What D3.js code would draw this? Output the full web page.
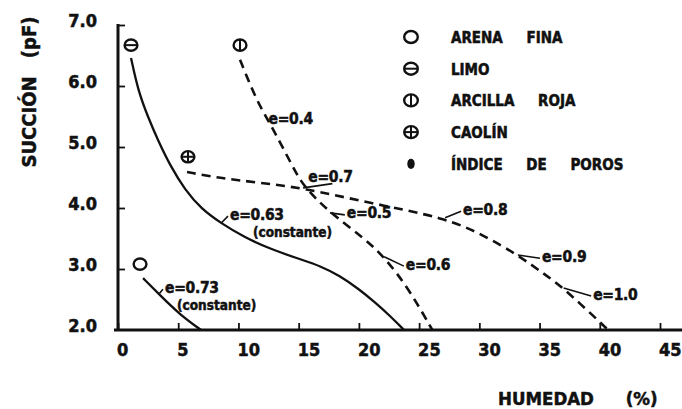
<!DOCTYPE html>
<html><head><meta charset="utf-8">
<script src="https://cdn.jsdelivr.net/npm/d3@7"></script>
<style>
html,body{margin:0;padding:0;background:#fff;}
svg{display:block;}
text{font-family:"DejaVu Sans Condensed","DejaVu Sans",sans-serif;font-weight:bold;fill:#111;font-stretch:condensed;stroke:#111;stroke-width:0.5px;}
</style></head>
<body>
<svg id="c" width="682" height="409"></svg>
<script>
// ---- data ----
const xTicks = [0,5,10,15,20,25,30,35,40,45];
const yTicks = [2.0,3.0,4.0,5.0,6.0,7.0];
const xTitle = "HUMEDAD (%)";
const yTitle = "SUCCIÓN (pF)";

// curves: [humedad %, succión pF]
const limo = [[1.08,6.46],[1.66,5.93],[2.49,5.49],[3.32,5.11],[4.4,4.67],[5.56,4.30],[6.89,3.99],[8.55,3.75],[10.5,3.52],[12.5,3.34],[15.1,3.16],[16.8,3.05],[18.4,2.89],[20.0,2.67],[21.3,2.46],[22.6,2.23],[23.75,2.0]];
const arena = [[2.08,2.85],[3.49,2.57],[5.15,2.25],[6.9,2.0]];
const arcilla = [[10.13,6.43],[11.55,5.74],[12.62,5.39],[14.53,4.67],[15.37,4.36],[17.6,3.92],[20.35,3.52],[22.1,3.2],[24.1,2.69],[26.1,2.0]];
const caolin = [[5.73,4.59],[8.47,4.49],[11.5,4.42],[15.37,4.33],[20.93,4.08],[27.16,3.84],[30.3,3.56],[33.2,3.23],[35.3,2.93],[37.0,2.69],[40.7,2.0]];

// point markers: [h, s, type]
const markers = [[1.83,3.08,"circle"],[1.08,6.67,"minus"],[10.13,6.67,"bar"],[5.81,4.84,"plus"]];

// legend
const legendTypes = ["circle","minus","bar","plus","dot"];
const legendLabels = ["ARENA FINA","LIMO","ARCILLA ROJA","CAOLÍN","ÍNDICE DE POROS"];

// annotations: text, anchor on curve [h,s], text start [h,s], optional second line
const notes = [
  {t:"e=0.4", a:[12.62,5.39], p:[12.5,5.47], leader:false},
  {t:"e=0.7", a:[15.37,4.33], p:[15.8,4.51], leader:true, lp:[17.8,4.40]},
  {t:"e=0.5", a:[17.6,3.92], p:[19.0,3.92], leader:true},
  {t:"e=0.63", a:[8.55,3.75], p:[9.3,3.90], leader:true, sub:"(constante)", sp:[11.2,3.61]},
  {t:"e=0.73", a:[3.4,2.59], p:[3.9,2.70], leader:true, sub:"(constante)", sp:[4.9,2.41]},
  {t:"e=0.6", a:[22.1,3.2], p:[23.9,3.08], leader:true},
  {t:"e=0.8", a:[27.16,3.84], p:[28.65,3.98], leader:true},
  {t:"e=0.9", a:[33.2,3.23], p:[35.2,3.21], leader:true},
  {t:"e=1.0", a:[37.0,2.69], p:[39.45,2.59], leader:true}
];

// ---- drawing ----
const svg = d3.select("#c");
const x = d3.scaleLinear().domain([0,45]).range([118,660]);
const y = d3.scaleLinear().domain([2,7]).range([330,25]);
const ink = "#111";

// axes
const gx = svg.append("g").attr("transform",`translate(0,${y(2)})`)
  .call(d3.axisTop(x).tickValues(xTicks).tickSize(7).tickFormat(""));
gx.select(".domain").remove();
gx.selectAll(".tick line").attr("stroke",ink).attr("stroke-width",1.8);
svg.append("line").attr("x1",x(0)-4).attr("x2",682).attr("y1",y(2)).attr("y2",y(2))
  .attr("stroke",ink).attr("stroke-width",3);
svg.selectAll(".xl").data(xTicks).join("text").attr("class","xl")
  .attr("x",d=>x(d)-1).attr("y",y(2)+26).attr("font-size",18).text(d=>d);

const gy = svg.append("g").attr("transform",`translate(${x(0)},0)`)
  .call(d3.axisRight(y).tickValues(yTicks.filter(d=>d>2)).tickSize(7).tickFormat(""));
gy.select(".domain").remove();
gy.selectAll(".tick line").attr("stroke",ink).attr("stroke-width",1.8);
svg.append("line").attr("x1",x(0)).attr("x2",x(0)).attr("y1",y(7)-1).attr("y2",y(2)+1)
  .attr("stroke",ink).attr("stroke-width",3);
svg.selectAll(".yl").data(yTicks).join("text").attr("class","yl")
  .attr("x",97).attr("y",d=>y(d)+2).attr("text-anchor","end").attr("font-size",18)
  .text(d=>d.toFixed(1));

// titles
svg.append("text").attr("transform","translate(36,92) rotate(-90)")
  .attr("text-anchor","middle").attr("font-size",20).style("word-spacing","12px").text(yTitle);
svg.append("text").attr("x",498).attr("y",405).attr("font-size",18.5)
  .style("word-spacing","26px").text(xTitle);

// curves
const line = d3.line().x(d=>x(d[0])).y(d=>y(d[1])).curve(d3.curveBasis);
svg.append("path").datum(limo).attr("d",line).attr("fill","none").attr("stroke",ink).attr("stroke-width",2.3);
svg.append("path").datum(arena).attr("d",line).attr("fill","none").attr("stroke",ink).attr("stroke-width",2.3);
svg.append("path").datum(arcilla).attr("d",line).attr("fill","none").attr("stroke",ink).attr("stroke-width",2.6).attr("stroke-dasharray","9,6");
svg.append("path").datum(caolin).attr("d",line).attr("fill","none").attr("stroke",ink).attr("stroke-width",2.6).attr("stroke-dasharray","9,6");

// marker drawer
function drawMarker(g, cx, cy, type, r){
  if(type==="dot"){
    g.append("ellipse").attr("cx",cx).attr("cy",cy).attr("rx",r*0.55).attr("ry",r*0.75).attr("fill",ink);
    return;
  }
  g.append("ellipse").attr("cx",cx).attr("cy",cy).attr("rx",r).attr("ry",r*0.88)
    .attr("fill","#fff").attr("stroke",ink).attr("stroke-width",2.4);
  if(type==="minus"||type==="plus")
    g.append("line").attr("x1",cx-r).attr("x2",cx+r).attr("y1",cy).attr("y2",cy).attr("stroke",ink).attr("stroke-width",2);
  if(type==="bar"||type==="plus")
    g.append("line").attr("x1",cx).attr("x2",cx).attr("y1",cy-r*0.88).attr("y2",cy+r*0.88).attr("stroke",ink).attr("stroke-width",2);
}
const gm = svg.append("g");
markers.forEach(m=>drawMarker(gm, x(m[0]), y(m[1]), m[2], 6.4));

// legend
const gl = svg.append("g");
legendTypes.forEach((t,i)=>{
  const cy = 37 + i*31.7;
  drawMarker(gl, 411, cy, t, 6.8);
  gl.append("text").attr("x",451).attr("y",cy+6).attr("font-size",15)
    .style("word-spacing","19px").text(legendLabels[i]);
});

// annotations
const ga = svg.append("g");
notes.forEach(n=>{
  if(n.leader){
    const end = n.lp ? [x(n.lp[0]), y(n.lp[1])] : [x(n.p[0])-2, y(n.p[1])+2];
    ga.append("line").attr("x1",x(n.a[0])).attr("y1",y(n.a[1])).attr("x2",end[0]).attr("y2",end[1])
      .attr("stroke",ink).attr("stroke-width",1.6);
  }
  ga.append("text").attr("x",x(n.p[0])).attr("y",y(n.p[1])+5.5).attr("font-size",15.5)
    .attr("letter-spacing","-0.3px").text(n.t);
  if(n.sub) ga.append("text").attr("x",x(n.sp[0])).attr("y",y(n.sp[1])+5).attr("font-size",13.5).text(n.sub);
});
</script>
</body></html>
